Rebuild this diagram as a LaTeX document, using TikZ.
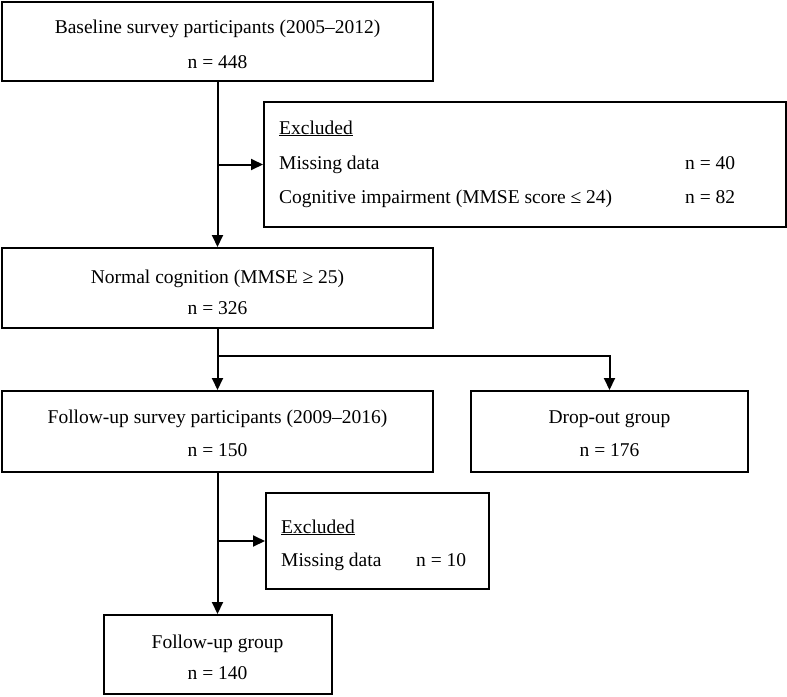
\documentclass[tikz,border=0pt]{standalone}
\usepackage{fontspec}
\setmainfont{Liberation Serif}
\usetikzlibrary{arrows.meta}

\tikzset{
  box/.style={draw, line width=2pt, inner sep=0pt},
  row/.style={anchor=base, inner sep=0pt, font=\fontsize{19.5}{22}\selectfont},
  txt/.style={anchor=base west, inner sep=0pt, font=\fontsize{19.5}{22}\selectfont},
  conn/.style={line width=2pt},
  arr/.style={conn, -{Triangle[length=12pt,width=11pt]}}
}

\begin{document}
\begin{tikzpicture}[x=1pt,y=-1pt]
  \useasboundingbox (0,0) rectangle (787,696);

  % main column of boxes
  \node[box, minimum width=431pt, minimum height=79pt] (base) at (217.5,41.5) {};
  \node[row] (basetitle) at (217.5,33) {Baseline survey participants (2005--2012)};
  \node[row] (basen) at (217.5,68) {n = 448};

  \node[box, minimum width=431pt, minimum height=80pt] (norm) at (217.5,288) {};
  \node[row] (normtitle) at (217.5,283) {Normal cognition (MMSE ≥ 25)};
  \node[row] (normn) at (217.5,314) {n = 326};

  \node[box, minimum width=431pt, minimum height=81pt] (fu) at (217.5,431.5) {};
  \node[row] (futitle) at (217.5,423) {Follow-up survey participants (2009--2016)};
  \node[row] (fun) at (217.5,456) {n = 150};

  \node[box, minimum width=277pt, minimum height=81pt] (drop) at (609.5,431.5) {};
  \node[row] (droptitle) at (609.5,423) {Drop-out group};
  \node[row] (dropn) at (609.5,456) {n = 176};

  \node[box, minimum width=228pt, minimum height=79pt] (fgroup) at (217.5,654.5) {};
  \node[row] (fgrouptitle) at (217.5,648) {Follow-up group};
  \node[row] (fgroupn) at (217.5,679) {n = 140};

  % excluded boxes
  \node[box, minimum width=522pt, minimum height=125pt] (exa) at (525,164.5) {};
  \node[txt] (exahead) at (279,134) {\underline{Excluded}};
  \node[txt] (examiss) at (279,169) {Missing data};
  \node[txt] (exacog) at (279,203) {Cognitive impairment (MMSE score ≤ 24)};
  \node[txt] (examissn) at (685,169) {n = 40};
  \node[txt] (exacogn) at (685,203) {n = 82};

  \node[box, minimum width=223pt, minimum height=96pt] (exb) at (377.5,541) {};
  \node[txt] (exbhead) at (281,533) {\underline{Excluded}};
  \node[txt] (exbmiss) at (281,566) {Missing data};
  \node[txt] (exbmissn) at (416,566) {n = 10};

  % arrows
  \draw[arr] (base.south) -- (norm.north);
  \draw[arr] (base.south |- exa.west) -- (exa.west);

  \coordinate (split) at (217.5,356);
  \draw[conn] (norm.south) -- (split);
  \draw[arr] (split) -- (fu.north);
  \draw[arr] (split) -| (drop.north);

  \draw[arr] (fu.south) -- (fgroup.north);
  \draw[arr] (fu.south |- exb.west) -- (exb.west);
\end{tikzpicture}
\end{document}
